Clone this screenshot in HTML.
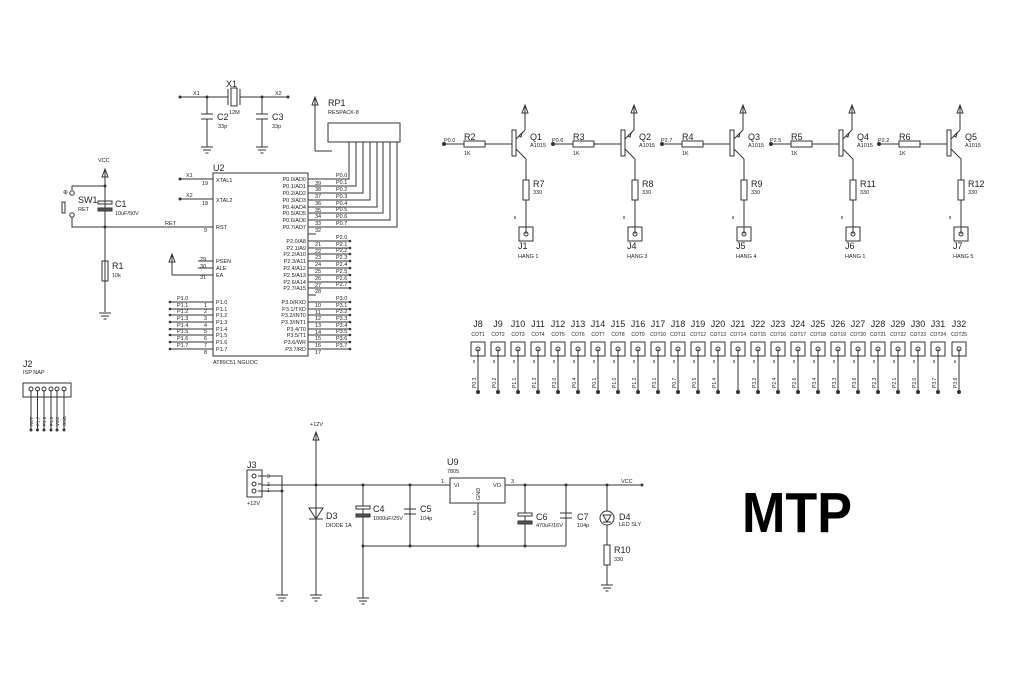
<!DOCTYPE html>
<html><head><meta charset="utf-8"><style>
html,body{margin:0;padding:0;background:#fff}
svg{display:block}
text{font-family:"Liberation Sans",sans-serif;fill:#222}
.s{font-size:5.5px}
.m{font-size:9px}
</style></head><body>
<svg width="1024" height="685" viewBox="0 0 1024 685" xmlns="http://www.w3.org/2000/svg">
<defs>
<g id="gnd" stroke="#333" stroke-width="1"><line x1="-6" y1="0" x2="6" y2="0"/><line x1="-4" y1="3" x2="4" y2="3"/><line x1="-1.5" y1="6" x2="1.5" y2="6"/></g>
<g id="arr" fill="none" stroke="#333" stroke-width="1"><path d="M-3,0 L0,-8 L3,0 Z M0,-8 L0,0"/></g>
<g id="stage" stroke="#333" stroke-width="1" fill="none">
<circle cx="-68" cy="144" r="1.5" fill="#333"/>
<line x1="-68" y1="144" x2="-48" y2="144"/>
<rect x="-48" y="141" width="21" height="6"/>
<line x1="-27" y1="144" x2="0" y2="144"/>
<rect x="0" y="130" width="4" height="26"/>
<line x1="4" y1="139" x2="13" y2="130"/><line x1="13" y1="130" x2="13" y2="106"/>
<path d="M7,136 L10,133 L9,137 Z" fill="#fff"/>
<line x1="4" y1="149" x2="14" y2="159"/><line x1="14" y1="159" x2="14" y2="180"/>
<rect x="11" y="180" width="6" height="20"/>
<line x1="14" y1="200" x2="14" y2="234"/>
<rect x="7" y="227" width="14" height="14"/>
<circle cx="14" cy="234" r="2"/>
<line x1="3" y1="216" x2="3" y2="219"/>
</g>
<g id="cot" stroke="#333" stroke-width="1" fill="none">
<rect x="0" y="342" width="14" height="14"/><circle cx="7" cy="349" r="2"/>
<line x1="7" y1="349" x2="7" y2="392"/><circle cx="7" cy="392" r="1.5" fill="#333"/>
<line x1="3" y1="360" x2="3" y2="363"/>
</g>
</defs>

<g stroke="#333" stroke-width="1" fill="none">
<!-- crystal -->
<line x1="180" y1="97" x2="228" y2="97"/><line x1="240" y1="97" x2="288" y2="97"/>
<line x1="228" y1="89" x2="228" y2="105"/><line x1="240" y1="89" x2="240" y2="105"/>
<rect x="231" y="88" width="6" height="18"/>
<line x1="207" y1="97" x2="207" y2="114"/><line x1="201" y1="114" x2="213" y2="114"/><line x1="201" y1="119" x2="213" y2="119"/><line x1="207" y1="119" x2="207" y2="147"/>
<line x1="262" y1="97" x2="262" y2="114"/><line x1="256" y1="114" x2="268" y2="114"/><line x1="256" y1="119" x2="268" y2="119"/><line x1="262" y1="119" x2="262" y2="147"/>
<!-- RP1 -->
<rect x="328" y="123" width="72" height="19"/>
<line x1="315" y1="105" x2="315" y2="151"/><line x1="315" y1="151" x2="332" y2="151"/>
<!-- U2 -->
<rect x="213" y="173" width="95" height="183"/>
<line x1="180" y1="179" x2="213" y2="179"/><line x1="180" y1="199" x2="213" y2="199"/>
<line x1="105" y1="227" x2="213" y2="227"/>
<line x1="172" y1="262" x2="172" y2="275"/><line x1="172" y1="275" x2="213" y2="275"/>
<line x1="198" y1="261" x2="213" y2="261"/><line x1="198" y1="268" x2="213" y2="268"/>
<!-- P0 to RP1 -->
<path d="M308,179H349V142M308,186H356V142M308,193H363V142M308,200H370V142M308,207H377V142M308,213H383V142M308,220H390V142M308,227H397V142"/>
<line x1="308" y1="234" x2="316" y2="234"/>
<!-- P2, P3 -->
<path d="M308,241H350M308,248H350M308,254H350M308,261H350M308,268H350M308,275H350M308,282H350M308,288H350"/>
<path d="M308,302H350M308,309H350M308,315H350M308,322H350M308,329H350M308,335H350M308,342H350M308,349H350"/>
<line x1="308" y1="295" x2="316" y2="295"/>
<!-- P1 -->
<path d="M170,302H213M170,309H213M170,315H213M170,322H213M170,329H213M170,335H213M170,342H213M170,349H213"/>
<!-- left reset -->
<line x1="105" y1="177" x2="105" y2="312"/>
<path d="M105,186H72V190M72,217V227H105"/>
<circle cx="72" cy="193" r="2.2"/><circle cx="72" cy="215" r="2.2"/>
<rect x="62" y="202" width="3" height="11"/>
<rect x="98" y="201" width="14" height="3"/>
<rect x="98" y="208" width="14" height="3" fill="#555"/>
<rect x="102" y="261" width="6" height="20"/>
<!-- J2 -->
<rect x="23" y="383" width="48" height="14"/>
<path d="M31,390V430M37.5,390V430M44,390V430M51,390V430M57,390V430M64,390V430"/>
<!-- power -->
<rect x="247" y="470" width="15" height="27"/>
<path d="M258,476H282V595M258,484H262M258,491H282"/>
<line x1="262" y1="485" x2="450" y2="485"/>
<line x1="505" y1="485" x2="642" y2="485"/>
<line x1="316" y1="432" x2="316" y2="595"/>
<path d="M309,519H323M316,519L309,508H323Z"/>
<line x1="363" y1="485" x2="363" y2="598"/>
<rect x="356" y="506" width="14" height="3" fill="#fff"/><rect x="356" y="514" width="14" height="3" fill="#555"/>
<line x1="410" y1="485" x2="410" y2="546"/><line x1="404" y1="509" x2="416" y2="509"/><line x1="404" y1="514" x2="416" y2="514"/>
<rect x="450" y="478" width="55" height="25"/>
<line x1="478" y1="503" x2="478" y2="546"/>
<line x1="363" y1="546" x2="566" y2="546"/>
<line x1="525" y1="485" x2="525" y2="546"/>
<rect x="518" y="513" width="14" height="3" fill="#fff"/><rect x="518" y="521" width="14" height="3" fill="#555"/>
<line x1="566" y1="485" x2="566" y2="546"/><line x1="560" y1="513" x2="572" y2="513"/><line x1="560" y1="518" x2="572" y2="518"/>
<line x1="607" y1="485" x2="607" y2="585"/>
<circle cx="607" cy="518" r="7" fill="#fff"/>
<path d="M603,515H611L607,522Z M603,522H611"/>
<rect x="604" y="545" width="6" height="20" fill="#fff"/>
</g>
<g fill="#333">
<circle cx="180" cy="97" r="1.5"/><circle cx="288" cy="97" r="1.5"/><circle cx="207" cy="97" r="1.5"/><circle cx="262" cy="97" r="1.5"/>
<circle cx="180" cy="179" r="1.5"/><circle cx="180" cy="199" r="1.5"/>
<circle cx="105" cy="186" r="1.5"/><circle cx="105" cy="227" r="1.5"/>
<circle cx="350" cy="241" r="1.3"/><circle cx="350" cy="248" r="1.3"/><circle cx="350" cy="254" r="1.3"/><circle cx="350" cy="261" r="1.3"/><circle cx="350" cy="268" r="1.3"/><circle cx="350" cy="275" r="1.3"/><circle cx="350" cy="282" r="1.3"/><circle cx="350" cy="288" r="1.3"/>
<circle cx="350" cy="302" r="1.3"/><circle cx="350" cy="309" r="1.3"/><circle cx="350" cy="315" r="1.3"/><circle cx="350" cy="322" r="1.3"/><circle cx="350" cy="329" r="1.3"/><circle cx="350" cy="335" r="1.3"/><circle cx="350" cy="342" r="1.3"/><circle cx="350" cy="349" r="1.3"/>
<circle cx="170" cy="302" r="1.3"/><circle cx="170" cy="309" r="1.3"/><circle cx="170" cy="315" r="1.3"/><circle cx="170" cy="322" r="1.3"/><circle cx="170" cy="329" r="1.3"/><circle cx="170" cy="335" r="1.3"/><circle cx="170" cy="342" r="1.3"/><circle cx="170" cy="349" r="1.3"/>
<circle cx="31" cy="430" r="1.5"/><circle cx="37.5" cy="430" r="1.5"/><circle cx="44" cy="430" r="1.5"/><circle cx="51" cy="430" r="1.5"/><circle cx="57" cy="430" r="1.5"/><circle cx="64" cy="430" r="1.5"/>
<circle cx="282" cy="491" r="1.5"/><circle cx="316" cy="485" r="1.5"/><circle cx="363" cy="485" r="1.5"/><circle cx="410" cy="485" r="1.5"/><circle cx="525" cy="485" r="1.5"/><circle cx="566" cy="485" r="1.5"/><circle cx="607" cy="485" r="1.5"/><circle cx="642" cy="485" r="1.5"/>
<circle cx="363" cy="546" r="1.5"/><circle cx="410" cy="546" r="1.5"/><circle cx="478" cy="546" r="1.5"/><circle cx="525" cy="546" r="1.5"/>
</g>
<g fill="none" stroke="#333" stroke-width="1"><circle cx="254" cy="476" r="2"/><circle cx="254" cy="484" r="2"/><circle cx="254" cy="491" r="2"/>
<circle cx="31" cy="389" r="2"/><circle cx="37.5" cy="389" r="2"/><circle cx="44" cy="389" r="2"/><circle cx="51" cy="389" r="2"/><circle cx="57" cy="389" r="2"/><circle cx="64" cy="389" r="2"/></g>
<use href="#gnd" x="207" y="147"/><use href="#gnd" x="262" y="147"/><use href="#gnd" x="105" y="313"/>
<use href="#gnd" x="282" y="595"/><use href="#gnd" x="316" y="595"/><use href="#gnd" x="363" y="598"/><use href="#gnd" x="607" y="585"/>
<use href="#arr" x="315" y="105"/><use href="#arr" x="105" y="177"/><use href="#arr" x="172" y="262"/><use href="#arr" x="316" y="440"/>
<use href="#arr" x="525" y="113"/><use href="#arr" x="634" y="113"/><use href="#arr" x="743" y="113"/><use href="#arr" x="852" y="113"/><use href="#arr" x="960" y="113"/>
<use href="#stage" x="512" y="0"/><use href="#stage" x="621" y="0"/><use href="#stage" x="730" y="0"/><use href="#stage" x="839" y="0"/><use href="#stage" x="947" y="0"/>
<use href="#cot" x="471"/><use href="#cot" x="491"/><use href="#cot" x="511"/><use href="#cot" x="531"/><use href="#cot" x="551"/><use href="#cot" x="571"/><use href="#cot" x="591"/><use href="#cot" x="611"/><use href="#cot" x="631"/><use href="#cot" x="651"/><use href="#cot" x="671"/><use href="#cot" x="691"/><use href="#cot" x="711"/><use href="#cot" x="731"/><use href="#cot" x="751"/><use href="#cot" x="771"/><use href="#cot" x="791"/><use href="#cot" x="811"/><use href="#cot" x="831"/><use href="#cot" x="851"/><use href="#cot" x="871"/><use href="#cot" x="891"/><use href="#cot" x="911"/><use href="#cot" x="931"/><use href="#cot" x="952"/>

<!-- text -->
<text class="m" x="226" y="87">X1</text><text class="s" x="193" y="95">X1</text><text class="s" x="275" y="95">X2</text>
<text class="m" x="217" y="120">C2</text><text class="s" x="229" y="114">12M</text><text class="s" x="218" y="128">33p</text>
<text class="m" x="272" y="120">C3</text><text class="s" x="272" y="128">33p</text>
<text class="m" x="328" y="106">RP1</text><text class="s" x="328" y="114">RESPACK-8</text>
<text class="m" x="213" y="171">U2</text>
<g class="s"><text x="216" y="182">XTAL1</text><text x="216" y="202">XTAL2</text><text x="216" y="229">RST</text><text x="216" y="263">PSEN</text><text x="216" y="270">ALE</text><text x="216" y="277">EA</text>
<text x="202" y="185">19</text><text x="202" y="205">18</text><text x="204" y="232">9</text><text x="200" y="261">29</text><text x="200" y="268">30</text><text x="200" y="279">31</text>
<text x="186" y="177">X1</text><text x="186" y="197">X2</text><text x="165" y="225">RET</text>
<text x="216" y="304">P1.0</text><text x="216" y="311">P1.1</text><text x="216" y="317">P1.2</text><text x="216" y="324">P1.3</text><text x="216" y="331">P1.4</text><text x="216" y="337">P1.5</text><text x="216" y="344">P1.6</text><text x="216" y="351">P1.7</text>
<text x="177" y="300">P1.0</text><text x="177" y="307">P1.1</text><text x="177" y="313">P1.2</text><text x="177" y="320">P1.3</text><text x="177" y="327">P1.4</text><text x="177" y="333">P1.5</text><text x="177" y="340">P1.6</text><text x="177" y="347">P1.7</text>
<text x="204" y="307">1</text><text x="204" y="313">2</text><text x="204" y="320">3</text><text x="204" y="327">4</text><text x="204" y="333">5</text><text x="204" y="340">6</text><text x="204" y="347">7</text><text x="204" y="354">8</text>
<g text-anchor="end"><text x="306" y="181">P0.0/AD0</text><text x="306" y="188">P0.1/AD1</text><text x="306" y="195">P0.2/AD2</text><text x="306" y="202">P0.3/AD3</text><text x="306" y="209">P0.4/AD4</text><text x="306" y="215">P0.5/AD5</text><text x="306" y="222">P0.6/AD6</text><text x="306" y="229">P0.7/AD7</text>
<text x="306" y="243">P2.0/A8</text><text x="306" y="250">P2.1/A9</text><text x="306" y="256">P2.2/A10</text><text x="306" y="263">P2.3/A11</text><text x="306" y="270">P2.4/A12</text><text x="306" y="277">P2.5/A13</text><text x="306" y="284">P2.6/A14</text><text x="306" y="290">P2.7/A15</text>
<text x="306" y="304">P3.0/RXD</text><text x="306" y="311">P3.1/TXD</text><text x="306" y="317">P3.2/INT0</text><text x="306" y="324">P3.3/INT1</text><text x="306" y="331">P3.4/T0</text><text x="306" y="337">P3.5/T1</text><text x="306" y="344">P3.6/WR</text><text x="306" y="351">P3.7/RD</text></g>
<text x="315" y="185">39</text><text x="315" y="191">38</text><text x="315" y="198">37</text><text x="315" y="205">36</text><text x="315" y="212">35</text><text x="315" y="218">34</text><text x="315" y="225">33</text><text x="315" y="232">32</text>
<text x="315" y="246">21</text><text x="315" y="253">22</text><text x="315" y="259">23</text><text x="315" y="266">24</text><text x="315" y="273">25</text><text x="315" y="280">26</text><text x="315" y="287">27</text><text x="315" y="293">28</text>
<text x="315" y="307">10</text><text x="315" y="314">11</text><text x="315" y="320">12</text><text x="315" y="327">13</text><text x="315" y="334">14</text><text x="315" y="340">15</text><text x="315" y="347">16</text><text x="315" y="354">17</text>
<text x="336" y="177">P0.0</text><text x="336" y="184">P0.1</text><text x="336" y="191">P0.2</text><text x="336" y="198">P0.3</text><text x="336" y="205">P0.4</text><text x="336" y="211">P0.5</text><text x="336" y="218">P0.6</text><text x="336" y="225">P0.7</text>
<text x="336" y="239">P2.0</text><text x="336" y="246">P2.1</text><text x="336" y="252">P2.2</text><text x="336" y="259">P2.3</text><text x="336" y="266">P2.4</text><text x="336" y="273">P2.5</text><text x="336" y="280">P2.6</text><text x="336" y="286">P2.7</text>
<text x="336" y="300">P3.0</text><text x="336" y="307">P3.1</text><text x="336" y="313">P3.2</text><text x="336" y="320">P3.3</text><text x="336" y="327">P3.4</text><text x="336" y="333">P3.5</text><text x="336" y="340">P3.6</text><text x="336" y="347">P3.7</text>
<text x="213" y="364">AT89C51 NGUOC</text>
<text x="98" y="162">VCC</text><text x="78" y="211">RET</text><text x="115" y="215">10uF/50V</text><text x="112" y="277">10k</text>
<text x="23" y="374">ISP NAP</text>
</g>
<text class="m" x="78" y="203">SW1</text><text class="m" x="115" y="207">C1</text><text class="m" x="112" y="269">R1</text><text class="m" x="23" y="367">J2</text>
<text x="63" y="194" style="font-size:6px">⊕</text>
<g class="s" style="font-size:4.5px"><text transform="translate(33,426) rotate(-90)">RET</text><text transform="translate(39.5,426) rotate(-90)">P1.7</text><text transform="translate(46,426) rotate(-90)">P1.6</text><text transform="translate(53,426) rotate(-90)">P1.5</text><text transform="translate(59,426) rotate(-90)">VCC</text><text transform="translate(66,426) rotate(-90)">GND</text></g>

<!-- transistor stages labels -->
<g class="s">
<text x="444" y="142">P0.0</text><text x="464" y="155">1K</text><text x="530" y="147">A1015</text><text x="533" y="194">330</text><text x="518" y="258">HANG 1</text>
<text x="552" y="142">P0.6</text><text x="573" y="155">1K</text><text x="639" y="147">A1015</text><text x="642" y="194">330</text><text x="627" y="258">HANG 3</text>
<text x="661" y="142">P2.7</text><text x="682" y="155">1K</text><text x="748" y="147">A1015</text><text x="751" y="194">330</text><text x="736" y="258">HANG 4</text>
<text x="770" y="142">P2.5</text><text x="791" y="155">1K</text><text x="857" y="147">A1015</text><text x="860" y="194">330</text><text x="845" y="258">HANG 1</text>
<text x="878" y="142">P2.2</text><text x="899" y="155">1K</text><text x="965" y="147">A1015</text><text x="968" y="194">330</text><text x="953" y="258">HANG 5</text>
</g>
<g class="m">
<text x="530" y="140">Q1</text><text x="464" y="140">R2</text><text x="533" y="187">R7</text><text x="518" y="249">J1</text>
<text x="639" y="140">Q2</text><text x="573" y="140">R3</text><text x="642" y="187">R8</text><text x="627" y="249">J4</text>
<text x="748" y="140">Q3</text><text x="682" y="140">R4</text><text x="751" y="187">R9</text><text x="736" y="249">J5</text>
<text x="857" y="140">Q4</text><text x="791" y="140">R5</text><text x="860" y="187">R11</text><text x="845" y="249">J6</text>
<text x="965" y="140">Q5</text><text x="899" y="140">R6</text><text x="968" y="187">R12</text><text x="953" y="249">J7</text>
</g>

<!-- cot labels -->
<g class="m" text-anchor="middle">
<text x="478" y="327">J8</text><text x="498" y="327">J9</text><text x="518" y="327">J10</text><text x="538" y="327">J11</text><text x="558" y="327">J12</text><text x="578" y="327">J13</text><text x="598" y="327">J14</text><text x="618" y="327">J15</text><text x="638" y="327">J16</text><text x="658" y="327">J17</text><text x="678" y="327">J18</text><text x="698" y="327">J19</text><text x="718" y="327">J20</text><text x="738" y="327">J21</text><text x="758" y="327">J22</text><text x="778" y="327">J23</text><text x="798" y="327">J24</text><text x="818" y="327">J25</text><text x="838" y="327">J26</text><text x="858" y="327">J27</text><text x="878" y="327">J28</text><text x="898" y="327">J29</text><text x="918" y="327">J30</text><text x="938" y="327">J31</text><text x="959" y="327">J32</text>
</g>
<g class="s" text-anchor="middle" style="font-size:5px">
<text x="478" y="336">COT1</text><text x="498" y="336">COT2</text><text x="518" y="336">COT3</text><text x="538" y="336">COT4</text><text x="558" y="336">COT5</text><text x="578" y="336">COT6</text><text x="598" y="336">COT7</text><text x="618" y="336">COT8</text><text x="638" y="336">COT9</text><text x="658" y="336">COT10</text><text x="678" y="336">COT11</text><text x="698" y="336">COT12</text><text x="718" y="336">COT13</text><text x="738" y="336">COT14</text><text x="758" y="336">COT15</text><text x="778" y="336">COT16</text><text x="798" y="336">COT17</text><text x="818" y="336">COT18</text><text x="838" y="336">COT19</text><text x="858" y="336">COT20</text><text x="878" y="336">COT21</text><text x="898" y="336">COT22</text><text x="918" y="336">COT23</text><text x="938" y="336">COT24</text><text x="959" y="336">COT25</text>
</g>
<g class="s" style="font-size:5px">
<text transform="translate(476,388) rotate(-90)">P0.3</text><text transform="translate(496,388) rotate(-90)">P0.2</text><text transform="translate(516,388) rotate(-90)">P1.1</text><text transform="translate(536,388) rotate(-90)">P1.3</text><text transform="translate(556,388) rotate(-90)">P3.0</text><text transform="translate(576,388) rotate(-90)">P0.4</text><text transform="translate(596,388) rotate(-90)">P0.1</text><text transform="translate(616,388) rotate(-90)">P1.0</text><text transform="translate(636,388) rotate(-90)">P1.2</text><text transform="translate(656,388) rotate(-90)">P3.1</text><text transform="translate(676,388) rotate(-90)">P0.7</text><text transform="translate(696,388) rotate(-90)">P0.5</text><text transform="translate(716,388) rotate(-90)">P1.4</text><text transform="translate(756,388) rotate(-90)">P3.2</text><text transform="translate(776,388) rotate(-90)">P2.4</text><text transform="translate(796,388) rotate(-90)">P2.6</text><text transform="translate(816,388) rotate(-90)">P3.4</text><text transform="translate(836,388) rotate(-90)">P3.3</text><text transform="translate(856,388) rotate(-90)">P3.6</text><text transform="translate(876,388) rotate(-90)">P2.3</text><text transform="translate(896,388) rotate(-90)">P2.1</text><text transform="translate(916,388) rotate(-90)">P2.0</text><text transform="translate(936,388) rotate(-90)">P3.7</text><text transform="translate(957,388) rotate(-90)">P3.6</text>
</g>

<!-- power labels -->
<text class="m" x="247" y="468">J3</text><text class="s" x="247" y="505">+12V</text>
<g class="s" style="font-size:5px"><text x="267" y="478">3</text><text x="267" y="486">2</text><text x="267" y="492">1</text></g>
<text class="s" x="310" y="426">+12V</text>
<text class="m" x="326" y="519">D3</text><text class="s" x="326" y="527">DIODE 1A</text>
<text class="m" x="373" y="512">C4</text><text class="s" x="373" y="520">1000uF/25V</text>
<text class="m" x="420" y="512">C5</text><text class="s" x="420" y="520">104p</text>
<text class="m" x="447" y="465">U9</text><text class="s" x="447" y="473">7805</text>
<text class="s" x="441" y="483">1</text><text class="s" x="454" y="487">VI</text><text class="s" x="493" y="487">VO</text><text class="s" x="511" y="483">3</text>
<text class="s" transform="translate(480,500) rotate(-90)">GND</text><text class="s" x="473" y="515">2</text>
<text class="m" x="536" y="520">C6</text><text class="s" x="536" y="527">470uF/16V</text>
<text class="m" x="577" y="520">C7</text><text class="s" x="577" y="527">104p</text>
<text class="m" x="619" y="520">D4</text><text class="s" x="619" y="526">LED SLY</text>
<text class="m" x="614" y="553">R10</text><text class="s" x="614" y="561">330</text>
<text class="s" x="621" y="483">VCC</text>

<text x="742" y="532" textLength="110" lengthAdjust="spacingAndGlyphs" style="font-family:'Liberation Sans',sans-serif;font-weight:bold;font-size:57px;fill:#000">MTP</text>
</svg>
</body></html>
